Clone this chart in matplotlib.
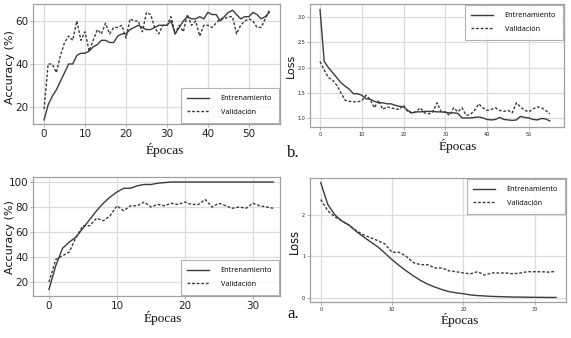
import matplotlib
matplotlib.use("Agg")
import matplotlib.pyplot as plt
from matplotlib.ticker import FixedLocator

# ---------------- data ----------------
b_acc_train = [14, 21, 25, 28, 32, 36, 40, 40, 44, 45, 45, 46, 48, 49, 51, 51, 50, 50, 53, 54,
               54, 56, 57, 58, 57, 56, 56, 57, 58, 58, 58, 60, 54, 57, 60, 62, 61, 61, 62, 61,
               64, 63, 63, 60, 62, 64, 65, 63, 61, 62, 62, 64, 63, 61, 62, 64]
b_acc_val = [19, 40, 40, 36, 44, 50, 53, 51, 60, 51, 55, 46, 51, 56, 54, 59, 54, 57, 57, 58,
             52, 61, 60, 60, 55, 64, 63, 57, 54, 58, 58, 62, 54, 58, 55, 63, 58, 60, 53, 58,
             58, 57, 59, 61, 61, 62, 62, 54, 58, 60, 61, 60, 57, 57, 61, 65]
b_loss_train = [3.15, 2.12, 2.0, 1.9, 1.8, 1.7, 1.63, 1.57, 1.48, 1.48, 1.45, 1.38, 1.37, 1.33,
                1.3, 1.3, 1.28, 1.28, 1.25, 1.23, 1.22, 1.15, 1.1, 1.12, 1.12, 1.13, 1.13, 1.13,
                1.12, 1.12, 1.11, 1.1, 1.1, 1.09, 1.0, 1.0, 1.0, 1.01, 1.02, 1.0, 0.97, 0.96,
                0.97, 1.01, 0.97, 0.96, 0.95, 0.96, 1.03, 1.01, 1.0, 0.97, 0.96, 0.99, 0.98, 0.94]
b_loss_val = [2.12, 1.95, 1.8, 1.75, 1.65, 1.5, 1.35, 1.33, 1.32, 1.32, 1.34, 1.45, 1.37, 1.2,
              1.35, 1.17, 1.22, 1.2, 1.18, 1.17, 1.25, 1.12, 1.1, 1.12, 1.2, 1.1, 1.08, 1.12,
              1.3, 1.12, 1.12, 1.05, 1.2, 1.12, 1.2, 1.05, 1.07, 1.15, 1.28, 1.2, 1.15, 1.17,
              1.2, 1.15, 1.13, 1.15, 1.1, 1.3, 1.22, 1.15, 1.12, 1.18, 1.22, 1.2, 1.15, 1.08]
a_acc_train = [14, 33, 47, 52, 56, 63, 70, 77, 83, 88, 92, 95, 95, 97, 98, 98, 99, 99.5, 100,
               100, 100, 100, 100, 100, 100, 100, 100, 100, 100, 100, 100, 100, 100, 100]
a_acc_val = [20, 38, 41, 44, 56, 65, 65, 71, 69, 73, 81, 77, 81, 81, 84, 80, 82, 81, 83, 82,
             84, 82, 82, 86, 80, 83, 81, 79, 80, 79, 83, 81, 80, 79]
a_loss_train = [2.78, 2.25, 2.0, 1.85, 1.75, 1.6, 1.47, 1.35, 1.23, 1.08, 0.92, 0.78, 0.65, 0.53,
                0.42, 0.33, 0.26, 0.2, 0.15, 0.12, 0.1, 0.07, 0.055, 0.045, 0.035, 0.03, 0.025,
                0.02, 0.018, 0.015, 0.013, 0.012, 0.01, 0.01]
a_loss_val = [2.37, 2.1, 1.95, 1.85, 1.75, 1.62, 1.52, 1.45, 1.38, 1.3, 1.1, 1.1, 1.0, 0.85,
              0.8, 0.8, 0.72, 0.72, 0.65, 0.63, 0.6, 0.58, 0.63, 0.55, 0.6, 0.6, 0.6, 0.58,
              0.6, 0.63, 0.63, 0.63, 0.62, 0.64]
labels = ["Entrenamiento", "Validación"]
xlabel_text = "Épocas"

# ---------------- figure ----------------
W, H = 571, 338
fig = plt.figure(figsize=(W / 100, H / 100), dpi=100)
fig.patch.set_facecolor("white")

LINE = "#3c3c3c"


def box(x0, y0, x1, y1):
    return [x0 / W, 1 - y1 / H, (x1 - x0) / W, (y1 - y0) / H]


def make(rect, train, val, xlim, ylim, xticks, yticks, ytickfmt, tick_fs, legloc):
    ax = fig.add_axes(box(*rect))
    ep = list(range(len(train)))
    ax.plot(ep, train, color=LINE, lw=1.0, label=labels[0])
    ax.plot(ep, val, color=LINE, lw=1.0, ls=(0, (2, 1.3)), label=labels[1])
    ax.set_xlim(*xlim)
    ax.set_ylim(*ylim)
    ax.xaxis.set_major_locator(FixedLocator(xticks))
    ax.yaxis.set_major_locator(FixedLocator(yticks))
    ax.set_yticklabels([ytickfmt(v) for v in yticks])
    ax.grid(True, color="#dcdcdc", lw=0.9)
    ax.set_axisbelow(True)
    for s in ax.spines.values():
        s.set_color("#a0a0a0")
        s.set_linewidth(0.9)
    ax.tick_params(axis="both", labelsize=tick_fs, length=2, width=0.6,
                   color="#a0a0a0", pad=1.5, labelcolor="#222222")
    leg = ax.legend(loc=legloc, fancybox=False, frameon=True,
                    prop={"family": "Open Sans", "size": 5.3}, handlelength=3.0,
                    borderpad=0.9, labelspacing=0.9, handletextpad=1.5, borderaxespad=0.2)
    leg.get_frame().set_edgecolor("#a0a0a0")
    leg.get_frame().set_linewidth(0.8)
    return ax


# top-left: accuracy b
make((33, 4, 280, 124), b_acc_train, b_acc_val, (-2.7, 57.6), (12.1, 67.9),
     [0, 10, 20, 30, 40, 50], [20, 40, 60], lambda v: f"{v:d}", 7.5, "lower right")
# top-right: loss b
make((310, 4, 564, 127), b_loss_train, b_loss_val, (-2.4, 58.4), (0.82, 3.26),
     [0, 10, 20, 30, 40, 50], [1.0, 1.5, 2.0, 2.5, 3.0], lambda v: f"{v:.1f}", 3.5,
     "upper right")
# bottom-left: accuracy a
make((33, 177, 280, 296), a_acc_train, a_acc_val, (-2.35, 34.0), (8.8, 104),
     [0, 10, 20, 30], [20, 40, 60, 80, 100], lambda v: f"{v:d}", 7.5, "lower right")
# bottom-right: loss a
make((310, 178, 566, 302), a_loss_train, a_loss_val, (-1.5, 34.4), (-0.1, 2.89),
     [0, 10, 20, 30], [0, 1, 2], lambda v: f"{v:d}", 3.5, "upper right")

serif = "Liberation Serif"
# x labels
for (x, y) in [(165, 150), (458, 146), (163, 318), (460, 320)]:
    fig.text(x / W, 1 - y / H, xlabel_text, family=serif, fontsize=9.5,
             ha="center", va="center", color="#111111")
# y labels
for (x, y, t, fs) in [(10, 67, "Accuracy (%)", 8), (10, 237, "Accuracy (%)", 8),
                      (291, 66, "Loss", 8), (294, 241, "Loss", 8.3)]:
    fig.text(x / W, 1 - y / H, t, fontsize=fs, rotation=90, ha="center", va="center",
             color="#111111")
# panel letters
fig.text(287 / W, 1 - 157 / H, "b.", family=serif, fontsize=12, ha="left",
         va="baseline", color="#111111")
fig.text(287 / W, 1 - 318 / H, "a.", family=serif, fontsize=12, ha="left",
         va="baseline", color="#111111")

fig.savefig("out.png", dpi=100, facecolor="white")
